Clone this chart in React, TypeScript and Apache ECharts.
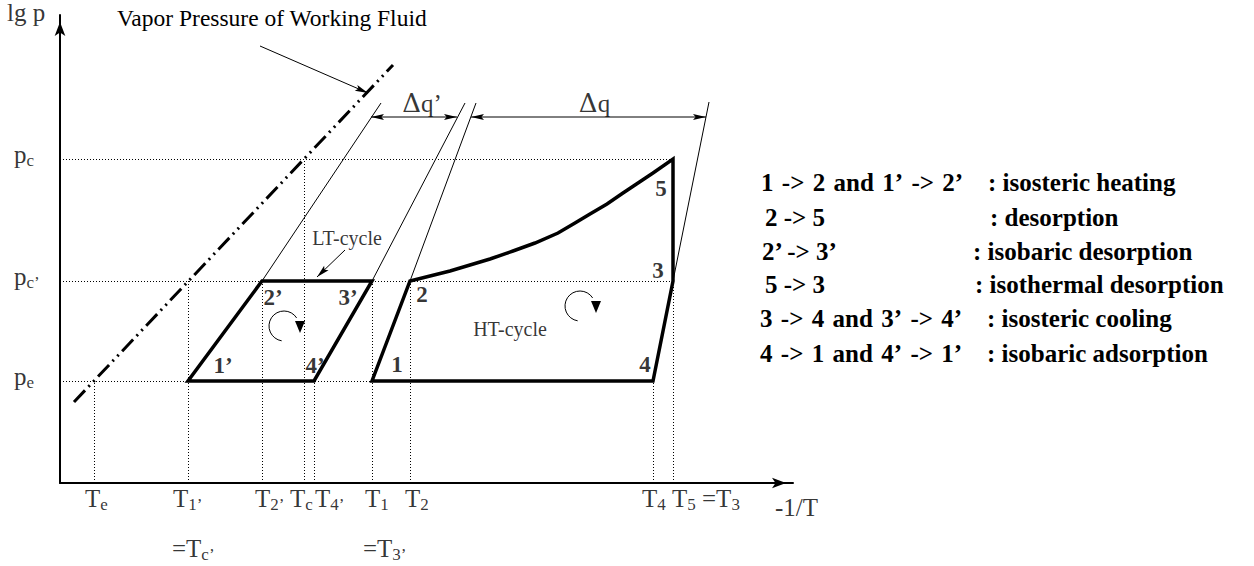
import { useEffect, useRef } from 'react';
import * as echarts from 'echarts';

// Axis extent in arbitrary units: x is -1/T, y is lg p
const xMax = 733;
const yMax = 468;

// Pressure levels p_c, p_c', p_e and how far their dotted guides run
const pressureLevels = [324, 202, 102];
const pressureNames = [['p', 'c'], ['p', 'c’'], ['p', 'e']];
const pressureGuideEnds = [613, 613, 312];

// Temperatures marked on the -1/T axis and the pressure each guide rises to
const tempValues = [34, 128, 202, 244, 254, 312, 350, 593, 613];
const tempNames = [
  ['T', 'e'], ['T', '1’'], ['T', '2’'], ['T', 'c'], ['T', '4’'],
  ['T', '1'], ['T', '2'], ['T', '4'], ['T', '5', ' =T', '3'],
];
const tempGuideTops = [102, 202, 202, 324, 102, 202, 202, 102, 202];
const tempEqualValues = [128, 312];
const tempEqualNames = [['=T', 'c’'], ['=T', '3’']];

// Vapour pressure line of the working fluid
const vaporLine = [[14, 81], [333, 418]];

// LT-cycle 1' -> 2' -> 3' -> 4'
const ltCycle = [[128, 102], [202, 202], [312, 202], [254, 102]];
// HT-cycle 1 -> 2 -> (desorption curve) -> 5 -> 3 -> 4
const htCycle = [
  [312, 102], [350, 202], [370, 207], [390, 212], [410, 218], [430, 224],
  [453, 232], [475, 240], [498, 250], [515, 260], [530, 269], [547, 279],
  [563, 290], [578, 300], [593, 310], [613, 324], [613, 202], [593, 102],
];

// Isosteres continued above the cycles
const isosteres = [
  [[202, 202], [321, 380]],
  [[312, 202], [405, 380]],
  [[350, 202], [416, 380]],
  [[613, 202], [649, 381]],
];

// Heat spans Δq' and Δq: [from, to, level]
const heatSpans = [[311, 397, 366], [411, 646, 366]];
const heatNames = ['q’', 'q'];

// State points of both cycles
const stateNames = ['1’', '2’', '3’', '4’', '1', '2', '3', '4', '5'];
const statePoints = [
  [128, 102], [202, 202], [312, 202], [254, 102],
  [312, 102], [350, 202], [613, 202], [593, 102], [613, 324],
];

// Cycle names and turning direction marks
const cycleNames = ['LT-cycle', 'HT-cycle'];
const cycleNamePoints = [[287, 245], [450, 154]];
const turnMarks = [[224, 157], [520, 177]];

// Pointer arrows: [x1, y1, x2, y2]
const pointers = [[200, 437, 308, 390], [285, 233, 257, 206]];

const fluidName = 'Vapor Pressure of Working Fluid';
// The long step names use slightly wider spaces (U+2004)
const stepNames = [
  '1\u2004->\u20042\u2004and\u20041’\u2004->\u20042’', '2 -> 5', '2’ -> 3’', '5 -> 3',
  '3\u2004->\u20044\u2004and\u20043’\u2004->\u20044’', '4\u2004->\u20041\u2004and\u20044’\u2004->\u20041’',
];
const stepKinds = [
  ': isosteric heating', ': desorption', ': isobaric desorption',
  ': isothermal desorption', ': isosteric cooling', ': isobaric adsorption',
];

// ---- layout and style ----
const FONT = 'Liberation Serif, Times New Roman, serif';
const BLACK = '#000';
const tickShift = [-9, -15, -7, -14, 1, -7, -5, -11, -1];
const equalShift = [-16, -9];
const stateShift = [
  [35, -16], [11, 16], [-24, 16], [1, -16],
  [25, -17], [12, 13], [-15, -11], [-8, -17], [-12, 29],
];
const heatShift = [8, 6];
const stepX = [761, 765, 762, 765, 760, 760];
const kindX = [988, 990, 973, 975, 987, 987];
const stepY = [182, 217, 251, 284, 318, 353];

const RICH: any = {
  m: { fontFamily: FONT, fontSize: 25, lineHeight: 30, color: BLACK },
  s: { fontFamily: FONT, fontSize: 17, lineHeight: 14, verticalAlign: 'bottom', color: BLACK },
  d: { fontFamily: 'DejaVu Serif, serif', fontSize: 26, color: BLACK },
  q: { fontFamily: FONT, fontSize: 25, color: BLACK },
};

function subText(parts: string[]) {
  let t = '';
  for (let k = 0; k < parts.length; k += 2) {
    t += `{m|${parts[k]}}`;
    if (parts[k + 1]) t += `{s|${parts[k + 1]}}`;
  }
  return t;
}

function arrowHead(tip: number[], from: number[], len: number, half: number) {
  const dx = tip[0] - from[0];
  const dy = tip[1] - from[1];
  const d = Math.hypot(dx, dy) || 1;
  const ux = dx / d;
  const uy = dy / d;
  const bx = tip[0] - ux * len;
  const by = tip[1] - uy * len;
  return {
    type: 'polygon',
    shape: {
      points: [
        [tip[0], tip[1]],
        [bx - uy * half, by + ux * half],
        [tip[0] - ux * len * 0.8, tip[1] - uy * len * 0.8],
        [bx + uy * half, by - ux * half],
      ],
    },
    style: { fill: BLACK },
  };
}

function textSeries(items: any[]) {
  return {
    type: 'scatter',
    silent: true,
    clip: false,
    symbolSize: 1,
    itemStyle: { color: 'rgba(0,0,0,0)' },
    z: 10,
    label: {
      show: true,
      position: 'inside',
      color: BLACK,
      fontFamily: FONT,
      verticalAlign: 'middle',
      formatter: (p: any) => p.name,
      rich: RICH,
    },
    data: items,
  };
}

// A free text line whose vertical centre sits at y
function textLine(text: string, x: number, y: number, size: number, weight: string) {
  return {
    text,
    left: x,
    top: y - 15,
    padding: 0,
    itemGap: 0,
    textStyle: { color: BLACK, fontFamily: FONT, fontSize: size, fontWeight: weight, lineHeight: 30 },
  };
}

function buildOption(): any {
  const axisCommon = {
    type: 'value',
    axisLine: {
      show: true,
      onZero: false,
      symbol: ['none', 'arrow'],
      symbolSize: [8, 14],
      symbolOffset: [0, -7],
      lineStyle: { color: BLACK, width: 2 },
    },
    axisTick: { show: false },
    axisLabel: { show: false },
    splitLine: { show: false },
  };

  const guideCoords = [
    ...pressureLevels.map((p, i) => [[0, p], [pressureGuideEnds[i], p]]),
    ...tempValues.map((t, i) => [[t, 0], [t, tempGuideTops[i]]]),
  ];

  const tickLabels = tempValues.map((x, i) => ({
    name: subText(tempNames[i]),
    value: [x, 0],
    label: { align: 'left', offset: [tickShift[i], 15] },
  }));
  const equalLabels = tempEqualValues.map((x, i) => ({
    name: subText(tempEqualNames[i]),
    value: [x, 0],
    label: { align: 'left', offset: [equalShift[i], 65] },
  }));
  const pressureLabels = pressureLevels.map((p, i) => ({
    name: subText(pressureNames[i]),
    value: [0, p],
    label: { align: 'left', offset: [-46, -5] },
  }));
  const axisNames = [
    { name: '{q|lg p}', value: [0, yMax], label: { align: 'left', offset: [-53, -3] } },
    { name: '{q|-1/T}', value: [xMax, 0], label: { align: 'left', offset: [-18, 24] } },
  ];
  const stateLabels = statePoints.map((pt, i) => ({
    name: stateNames[i],
    value: pt,
    label: { align: 'center', offset: stateShift[i], fontWeight: 'bold', fontSize: 23 },
  }));
  const heatLabels = heatSpans.map(([a, b, y], i) => ({
    name: `{d|Δ}{q|${heatNames[i]}}`,
    value: [(a + b) / 2, y],
    label: { align: 'center', offset: [heatShift[i], -14] },
  }));
  const cycleLabels = cycleNamePoints.map((pt, i) => ({
    name: cycleNames[i],
    value: pt,
    label: { align: 'center', fontSize: 20 },
  }));

  return {
    animation: false,
    backgroundColor: '#fff',
    textStyle: { fontFamily: FONT },
    title: [
      textLine(fluidName, 117, 18, 23.5, 'normal'),
      ...stepNames.map((t, i) => textLine(t, stepX[i], stepY[i], 25, 'bold')),
      ...stepKinds.map((t, i) => textLine(t, kindX[i], stepY[i], 25, 'bold')),
    ],
    grid: { left: 60, top: 15, width: 733, height: 468, containLabel: false, outerBoundsMode: 'none' },
    xAxis: { ...axisCommon, min: 0, max: xMax },
    yAxis: { ...axisCommon, min: 0, max: yMax },
    series: [
      {
        type: 'lines',
        coordinateSystem: 'cartesian2d',
        silent: true,
        z: 1,
        lineStyle: { color: BLACK, width: 1, type: [1, 2], opacity: 1 },
        data: guideCoords.map((c) => ({ coords: c })),
      },
      {
        type: 'lines',
        coordinateSystem: 'cartesian2d',
        silent: true,
        z: 2,
        lineStyle: { color: BLACK, width: 1, type: 'solid', opacity: 1 },
        data: isosteres.map((c) => ({ coords: c })),
      },
      {
        type: 'line',
        silent: true,
        z: 3,
        symbol: 'none',
        data: vaporLine,
        lineStyle: { color: BLACK, width: 3, type: [16, 5, 2, 5, 2, 5], cap: 'butt' },
      },
      {
        type: 'line',
        silent: true,
        z: 4,
        symbol: 'none',
        data: [...ltCycle, ltCycle[0], ltCycle[1]],
        lineStyle: { color: BLACK, width: 3.5, join: 'miter', cap: 'butt' },
      },
      {
        type: 'line',
        silent: true,
        z: 4,
        symbol: 'none',
        data: [...htCycle, htCycle[0], htCycle[1]],
        lineStyle: { color: BLACK, width: 3.5, join: 'miter', cap: 'butt' },
      },
      {
        type: 'custom',
        silent: true,
        z: 5,
        encode: { x: [0, 2], y: [1, 3] },
        data: heatSpans.map(([a, b, y]) => [a, y, b, y]),
        renderItem: (_params: any, api: any) => {
          const p1 = api.coord([api.value(0), api.value(1)]);
          const p2 = api.coord([api.value(2), api.value(3)]);
          return {
            type: 'group',
            children: [
              { type: 'line', shape: { x1: p1[0], y1: p1[1], x2: p2[0], y2: p2[1] }, style: { stroke: BLACK, lineWidth: 1 } },
              arrowHead(p1, p2, 13, 3),
              arrowHead(p2, p1, 13, 3),
            ],
          };
        },
      },
      {
        type: 'custom',
        silent: true,
        z: 5,
        encode: { x: [0, 2], y: [1, 3] },
        data: pointers,
        renderItem: (_params: any, api: any) => {
          const p1 = api.coord([api.value(0), api.value(1)]);
          const p2 = api.coord([api.value(2), api.value(3)]);
          return {
            type: 'group',
            children: [
              { type: 'line', shape: { x1: p1[0], y1: p1[1], x2: p2[0], y2: p2[1] }, style: { stroke: BLACK, lineWidth: 1 } },
              arrowHead(p2, p1, 13, 3.2),
            ],
          };
        },
      },
      {
        type: 'custom',
        silent: true,
        z: 5,
        data: turnMarks,
        renderItem: (_params: any, api: any) => {
          const c = api.coord([api.value(0), api.value(1)]);
          const r = 15;
          return {
            type: 'group',
            children: [
              {
                type: 'arc',
                shape: { cx: c[0], cy: c[1], r, startAngle: Math.PI * 0.55, endAngle: Math.PI * 1.82, clockwise: true },
                style: { stroke: BLACK, lineWidth: 1, fill: 'none' },
              },
              {
                type: 'polygon',
                shape: { points: [[c[0] + 11, c[1] - 5], [c[0] + 21, c[1] - 5], [c[0] + 16, c[1] + 7]] },
                style: { fill: BLACK },
              },
            ],
          };
        },
      },
      textSeries(tickLabels),
      textSeries(equalLabels),
      textSeries(pressureLabels),
      textSeries(axisNames),
      textSeries(stateLabels),
      textSeries(heatLabels),
      textSeries(cycleLabels),
    ],
  };
}

export default function App() {
  const ref = useRef<HTMLDivElement>(null);
  useEffect(() => {
    if (!ref.current) return;
    const chart = echarts.init(ref.current, null, { renderer: 'svg' });
    chart.setOption(buildOption());
    return () => chart.dispose();
  }, []);
  return (
    <div
      ref={ref}
      style={{ position: 'fixed', left: 0, top: 0, width: 1254, height: 566, background: '#fff' }}
    />
  );
}
